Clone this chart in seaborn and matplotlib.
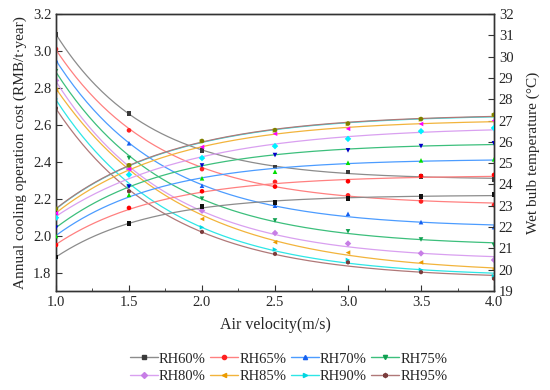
import numpy as np
import pandas as pd
import matplotlib
matplotlib.use("Agg")
import matplotlib.pyplot as plt
import seaborn as sns
from matplotlib.lines import Line2D
from matplotlib.ticker import MultipleLocator

sns.set_style("ticks")
plt.rcParams['font.family'] = ['Liberation Serif', 'DejaVu Serif']

velocity = [1.0, 1.5, 2.0, 2.5, 3.0, 3.5, 4.0]
labels = ["RH60%", "RH65%", "RH70%", "RH75%", "RH80%", "RH85%", "RH90%", "RH95%"]

# annual cooling operation cost (left axis)
cost_rh60 = [3.09, 2.66, 2.46, 2.372, 2.345, 2.321, 2.305]
cost_rh65 = [3.01, 2.57, 2.36, 2.291, 2.218, 2.185, 2.165]
cost_rh70 = [2.95, 2.50, 2.27, 2.162, 2.118, 2.073, 2.046]
cost_rh75 = [2.89, 2.42, 2.20, 2.082, 2.023, 1.979, 1.948]
cost_rh80 = [2.84, 2.36, 2.135, 2.014, 1.957, 1.904, 1.868]
cost_rh85 = [2.79, 2.38, 2.09, 1.964, 1.908, 1.855, 1.819]
cost_rh90 = [2.74, 2.27, 2.045, 1.925, 1.868, 1.815, 1.780]
cost_rh95 = [2.69, 2.24, 2.02, 1.901, 1.855, 1.802, 1.767]

# wet bulb temperature (right axis)
wb_rh60 = [20.59, 22.18, 22.96, 23.15, 23.35, 23.43, 23.54]
wb_rh65 = [21.16, 22.90, 23.68, 23.90, 24.15, 24.40, 24.45]
wb_rh70 = [21.58, 23.51, 24.29, 24.60, 25.02, 25.13, 25.18]
wb_rh75 = [21.97, 23.90, 24.89, 25.38, 25.60, 25.80, 25.93]
wb_rh80 = [22.44, 24.46, 25.24, 25.80, 26.14, 26.50, 26.65]
wb_rh85 = [22.65, 24.72, 25.76, 26.38, 26.61, 26.84, 27.00]
wb_rh90 = [22.84, 24.89, 26.02, 26.53, 26.84, 27.05, 27.25]
wb_rh95 = [22.86, 24.90, 26.04, 26.55, 26.86, 27.07, 27.27]

cost = [cost_rh60, cost_rh65, cost_rh70, cost_rh75, cost_rh80, cost_rh85, cost_rh90, cost_rh95]
wetbulb = [wb_rh60, wb_rh65, wb_rh70, wb_rh75, wb_rh80, wb_rh85, wb_rh90, wb_rh95]

line_colors = ['#8c8c8c', '#ff8080', '#4c9cff', '#3cbf7c', '#d9a0f0', '#f2b43c', '#2ee6e6', '#b07878']
cost_marker_colors = ['#3a3a3a', '#ff2020', '#1560f0', '#10a050', '#c77ee6', '#eb9b00', '#00d5e0', '#7a3c3c']
cost_markers = ['s', 'o', '^', 'v', 'D', '<', '>', 'h']
wb_marker_colors = ['#111111', '#ff0000', '#00dd00', '#0000c8', '#00f0ff', '#ff00ff', '#b0b000', '#7f7f00']
wb_markers = ['s', 'o', '^', 'v', 'D', '<', '>', 'o']


def exp_fit(x, y):
    # y = y0 + A*exp(-x/t), like Origin's ExpDec1
    x = np.asarray(x)
    y = np.asarray(y)
    best = None
    for t in np.linspace(0.15, 6, 600):
        M = np.column_stack([np.ones_like(x), np.exp(-x / t)])
        coef = np.linalg.lstsq(M, y, rcond=None)[0]
        err = np.sum((M @ coef - y) ** 2)
        if best is None or err < best[0]:
            best = (err, coef, t)
    _, coef, t = best
    return lambda xs: coef[0] + coef[1] * np.exp(-xs / t)


fig = plt.figure(figsize=(5.5, 3.9), dpi=100)
ax = fig.add_axes([0.1018, 0.2538, 0.7964, 0.7103])
ax2 = ax.twinx()

xs = np.linspace(1.0, 4.0, 200)
for i in range(len(labels)):
    f = exp_fit(velocity, cost[i])
    sns.lineplot(x=xs, y=f(xs), ax=ax, color=line_colors[i], lw=0.9, zorder=2)
    sns.scatterplot(x=velocity, y=cost[i], ax=ax, marker=cost_markers[i], color=cost_marker_colors[i],
                    s=11, edgecolor='none', zorder=3)
    g = exp_fit(velocity, wetbulb[i])
    sns.lineplot(x=xs, y=g(xs), ax=ax2, color=line_colors[i], lw=0.9, zorder=2)
    sns.scatterplot(x=velocity, y=wetbulb[i], ax=ax2, marker=wb_markers[i], color=wb_marker_colors[i],
                    s=11, edgecolor='none', zorder=3)

ax.set_xlim(1.0, 4.0)
ax.set_ylim(1.7, 3.2)
ax2.set_ylim(19, 32)
ax.xaxis.set_major_locator(MultipleLocator(0.5))
ax.xaxis.set_minor_locator(MultipleLocator(0.25))
ax.set_yticks([1.8, 2.0, 2.2, 2.4, 2.6, 2.8, 3.0, 3.2])
ax2.yaxis.set_major_locator(MultipleLocator(1))

ax.tick_params(axis='both', which='both', direction='in', labelsize=10.5, color='#333333')
ax.tick_params(which='major', length=4)
ax.tick_params(which='minor', length=2.5)
ax2.tick_params(axis='y', direction='in', labelsize=10.5, length=4, color='#333333')
ax.tick_params(axis='y', right=False)

ax.set_xlabel("Air velocity(m/s)", fontsize=11.5, labelpad=6)
ax.set_ylabel("Annual cooling operation cost (RMB/t·year)", fontsize=11, labelpad=4)
ax2.set_ylabel("Wet bulb temperature (°C)", fontsize=11, labelpad=9)

for a in (ax, ax2):
    for s in a.spines.values():
        s.set_color('#333333')
        s.set_linewidth(1.0)

handles = [Line2D([0], [0], color=line_colors[i], lw=1, marker=cost_markers[i], markersize=3,
                  markerfacecolor=cost_marker_colors[i], markeredgecolor=cost_marker_colors[i])
           for i in range(len(labels))]
# legend fills column by column, so reorder to read row by row
order = [0, 4, 1, 5, 2, 6, 3, 7]
fig.legend([handles[k] for k in order], [labels[k] for k in order], loc='center',
           bbox_to_anchor=(0.525, 0.057), ncol=4, frameon=False, fontsize=10.5,
           handlelength=1.9, handletextpad=0.1, columnspacing=0.3, labelspacing=0.3)

fig.savefig("out.png", dpi=100)
